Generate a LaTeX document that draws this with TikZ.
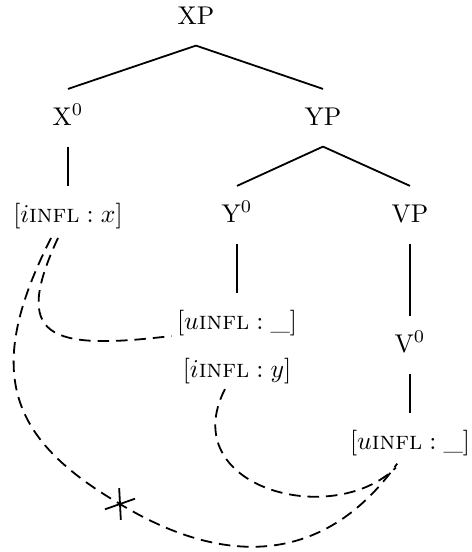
\documentclass[tikz,border=0pt]{standalone}
\usetikzlibrary{calc}
\begin{document}
\begin{tikzpicture}[x=0.39pt,y=-0.39pt,
    every node/.style={inner sep=2pt,text height=8pt,text depth=2.5pt},
    branch/.style={line width=0.7pt},
    agree/.style={line width=0.7pt,dash pattern=on 4.5pt off 2.7pt}]
  \useasboundingbox (0,0) rectangle (472,552);
  % tree
  \draw
    (196,17) node (xp){XP}
    (68,118) node (x0){X$^0$}
    (323,118) node (yp){YP}
    (68,215) node (ix){$[i\textsc{infl} : x]$}
    (237,215) node (y0){Y$^0$}
    (410,215) node (vp){VP}
    (237,322) node (uy){$[u\textsc{infl} : \_]$}
    (237,370) node (iy){$[i\textsc{infl} : y]$}
    (410,345) node (v0){V$^0$}
    (410,442) node (uv){$[u\textsc{infl} : \_]$};
  \begin{scope}[branch]
    \draw ([yshift=-3.7pt]xp.south) to ([yshift=3.9pt]x0.north);
    \draw ([yshift=-3.7pt]xp.south) to ([yshift=3.9pt]yp.north);
    \draw ([yshift=-3.7pt]x0.south) to ([yshift=3.9pt]ix.north);
    \draw ([yshift=-3.7pt]yp.south) to ([yshift=3.9pt]y0.north);
    \draw ([yshift=-3.7pt]yp.south) to ([yshift=3.9pt]vp.north);
    \draw ([yshift=-3.7pt]y0.south) to ([yshift=3.9pt]uy.north);
    \draw ([yshift=-3.7pt]vp.south) to ([yshift=3.9pt]v0.north);
    \draw ([yshift=-3.7pt]v0.south) to ([yshift=3.9pt]uv.north);
  \end{scope}
  % agreement paths
  \coordinate (cut) at (120,504);
  \begin{scope}[agree]
    \draw ([xshift=-3.9pt,yshift=-1.5pt]ix.south) .. controls (12,337) and (47,351) .. ([yshift=2pt]uy.south west);
    \draw ([xshift=-6.6pt,yshift=-1.5pt]ix.south) .. controls (-16,370) and (7,438) .. (cut)
      .. controls (229,570) and (327,562) .. ([xshift=-5pt,yshift=-1pt]uv.south);
    \draw ([xshift=-4.7pt]iy.south) .. controls (175,487) and (332,530) .. ([xshift=-5.5pt,yshift=-2.5pt]uv.south);
  \end{scope}
  \draw[line width=0.7pt] (cut) +(-87:6.2pt) -- +(93:6.2pt) +(19.5:6.2pt) -- +(199.5:6.2pt);
\end{tikzpicture}
\end{document}
